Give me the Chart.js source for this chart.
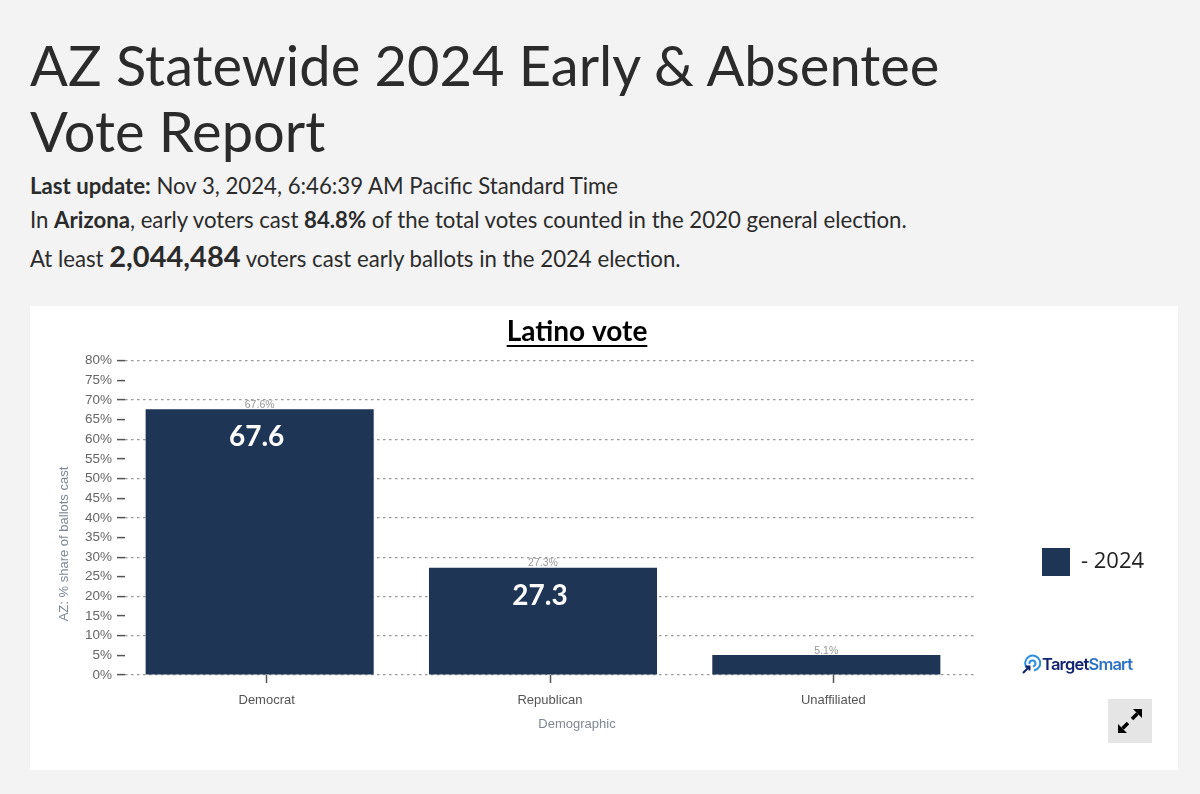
<!DOCTYPE html>
<html>
<head>
<meta charset="utf-8">
<title>AZ Statewide 2024 Early & Absentee Vote Report</title>
<script src="https://cdn.jsdelivr.net/npm/chart.js@4"></script>
<style>
  html, body { margin: 0; width: 1200px; height: 794px; overflow: hidden; background: #f3f3f3; }
  body { font-family: Lato, sans-serif; color: #2b2b2b; position: relative; }
  .line { position: absolute; left: 30px; white-space: nowrap; }
  h1 { position: absolute; left: 30px; top: 32px; margin: 0; font-size: 56px; line-height: 66px; font-weight: 400; width: 1000px; }
  #line1 { top: 172px; font-size: 22.2px; }
  #line2 { top: 206px; font-size: 22.2px; }
  #line3 { top: 245px; font-size: 22.2px; }
  #line3 b { font-size: 29px; line-height: 22px; }
  #panel { position: absolute; left: 30px; top: 306px; width: 1148px; height: 464px; background: #fff; }
  #chart { position: absolute; left: 0; top: 0; }
  #logo { position: absolute; left: 1022px; top: 653px; height: 22px; display: flex; align-items: center; font: 600 16.5px Inter, sans-serif; letter-spacing: -0.8px; color: #12236f; }
  #logo span { color: #2b72c4; }
  #expand { position: absolute; left: 1108px; top: 699px; width: 44px; height: 44px; background: #e5e5e5; }
</style>
</head>
<body>
<h1>AZ Statewide 2024 Early &amp; Absentee Vote Report</h1>
<div class="line" id="line1"><b>Last update:</b> Nov 3, 2024, 6:46:39 AM Pacific Standard Time</div>
<div class="line" id="line2">In <b>Arizona</b>, early voters cast <b>84.8%</b> of the total votes counted in the 2020 general election.</div>
<div class="line" id="line3">At least <b>2,044,484</b> voters cast early ballots in the 2024 election.</div>
<div id="panel"><canvas id="chart" width="1148" height="464"></canvas></div>
<div id="logo">
  <svg width="19" height="20" viewBox="0 0 19 20" fill="none" stroke-width="2">
    <path d="M5 14 A7.5 7.5 0 1 1 12 16.5" stroke="#2b8fe0"/>
    <path d="M7.5 10 A3 3 0 1 1 11 12.5" stroke="#2b8fe0"/>
    <path d="M1 19 L7 13 M3.5 12.5 H7.5 V16.5" stroke="#12236f"/>
  </svg><div style="margin-left:1px">Target<span>Smart</span></div>
</div>
<div id="expand">
  <svg width="44" height="44" viewBox="0 0 44 44">
    <path d="M34 10 H25 L34 19 Z M10 34 H19 L10 25 Z" fill="#000"/>
    <path d="M29.5 14.5 L24 20 M14.5 29.5 L20 24" stroke="#000" stroke-width="3.5"/>
  </svg>
</div>
<script>
const categories = ["Democrat", "Republican", "Unaffiliated"];
const shares = [67.6, 27.3, 5.1];
const insideLabels = ["67.6", "27.3", ""];
const yTicks = { min: 0, max: 80, step: 5 };
const seriesName = "- 2024";
const chartTitle = "Latino vote";
const xTitle = "Demographic";
const yTitle = "AZ: % share of ballots cast";

const barColor = "#1f3556";
const barShift = -7; // bars sit a bit left of the tick marks in the original

const extras = {
  id: "extras",
  afterLayout(chart) {
    // move the title and legend to where the original has them
    chart.titleBlock.left = 0;
    chart.titleBlock.right = 1094;
    Object.assign(chart.legend, { left: 1002, top: 232, right: 1148, bottom: 300, width: 146, height: 68 });
  },
  beforeDatasetsDraw(chart) {
    chart.ctx.save();
    chart.ctx.translate(barShift, 0);
  },
  afterDatasetsDraw(chart) {
    const ctx = chart.ctx;
    ctx.textAlign = "center";
    chart.getDatasetMeta(0).data.forEach((bar, i) => {
      ctx.fillStyle = "#999";
      ctx.font = "10.5px 'Liberation Sans'";
      ctx.textBaseline = "bottom";
      ctx.fillText(shares[i] + "%", bar.x, bar.y + 1);
      ctx.fillStyle = "#fff";
      ctx.font = "bold 28px Lato";
      ctx.textBaseline = "middle";
      ctx.fillText(insideLabels[i], bar.x - 3, bar.y + 28);
    });
    ctx.restore();
  },
  afterDraw(chart) {
    const ctx = chart.ctx;
    ctx.save();
    // underline for the title
    ctx.font = "bold 28px Lato";
    const w = ctx.measureText(chartTitle).width;
    ctx.strokeStyle = "#000";
    ctx.lineWidth = 2;
    ctx.beginPath();
    ctx.moveTo(547 - w / 2, 40);
    ctx.lineTo(547 + w / 2, 40);
    ctx.stroke();
    // axis titles
    ctx.fillStyle = "#7f8894";
    ctx.font = "13px 'Liberation Sans'";
    ctx.textAlign = "center";
    ctx.textBaseline = "middle";
    ctx.fillText(xTitle, 547, 418);
    ctx.translate(34, 238);
    ctx.rotate(-Math.PI / 2);
    ctx.fillText(yTitle, 0, 0);
    ctx.restore();
  }
};

new Chart(document.getElementById("chart"), {
  type: "bar",
  data: {
    labels: categories,
    datasets: [{
      label: seriesName,
      data: shares,
      backgroundColor: barColor,
      borderColor: barColor,
      barPercentage: 0.805,
      categoryPercentage: 1
    }]
  },
  plugins: [extras],
  options: {
    responsive: false,
    animation: false,
    layout: { padding: { right: 203 } },
    plugins: {
      title: {
        display: true,
        text: chartTitle,
        color: "#000",
        font: { family: "Lato", size: 28, weight: "bold" },
        padding: { top: 9, bottom: 12 }
      },
      legend: {
        position: "chartArea",
        align: "start",
        labels: {
          boxWidth: 28,
          boxHeight: 28,
          color: "#222",
          font: { family: "Open Sans", size: 22 }
        }
      },
      tooltip: { enabled: false }
    },
    scales: {
      x: {
        afterFit: s => { s.height = 95; },
        border: { display: false },
        grid: { offset: false, drawOnChartArea: false, tickLength: 8, tickColor: "#555", tickWidth: 1.5 },
        ticks: { color: "#555", padding: 10, maxRotation: 0, font: { family: "Liberation Sans", size: 13 } }
      },
      y: {
        min: yTicks.min,
        max: yTicks.max,
        afterFit: s => { s.width = 95; },
        border: { display: false, dash: [2.5, 3.5] },
        grid: {
          color: c => c.tick.value % 10 === 0 ? "#999" : "transparent",
          lineWidth: 1.2,
          tickLength: 8,
          tickColor: "#555",
          tickWidth: 1.5
        },
        ticks: {
          stepSize: yTicks.step,
          autoSkip: false,
          color: "#666",
          padding: 5,
          font: { family: "Liberation Sans", size: 13.5 },
          callback: v => v + "%"
        }
      }
    }
  }
});
</script>
</body>
</html>
